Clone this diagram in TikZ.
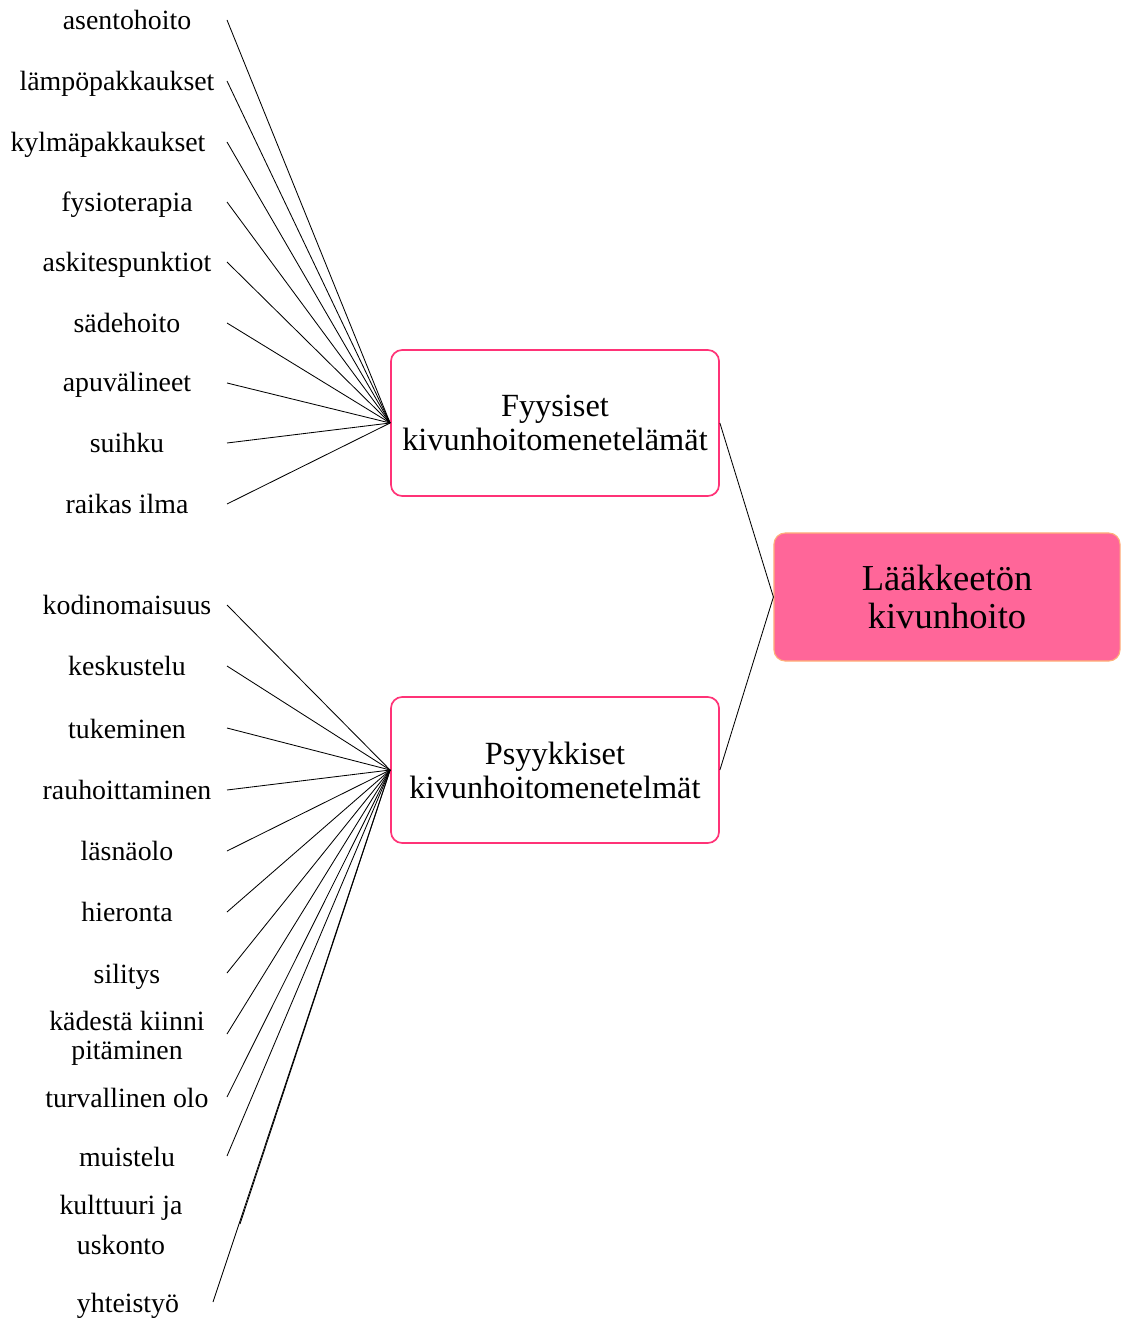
\documentclass[tikz,border=0pt]{standalone}
\usepackage{fontspec}
\setmainfont{Liberation Serif}
\usepackage{tikz}
\usepackage{xcolor}
\definecolor{reuna}{HTML}{FF3377}
\definecolor{paa}{HTML}{FF6699}
\definecolor{paareuna}{HTML}{FFB07A}

\begin{document}
\begin{tikzpicture}[x=0.025cm,y=-0.025cm,
		lbl/.style={inner sep=0pt,align=center,font=\fontsize{19.8}{20.6}\selectfont},
		ryhma/.style={draw=reuna,line width=1.2pt,fill=white,rounded corners=8pt,
			minimum width=8.2cm,minimum height=3.65cm,align=center,
			font=\fontsize{23}{24.1}\selectfont},
		juuri/.style={draw=paareuna,line width=0.8pt,fill=paa,rounded corners=8pt,
			minimum width=8.65cm,minimum height=3.2cm,align=center,
			font=\fontsize{26}{27.6}\selectfont}]
			\useasboundingbox (0,0) rectangle (1122,1319);
			\begin{scope}
				\node[ryhma] (FY) at (555,423) {Fyysiset\\kivunhoitomenetelämät};
				\node[ryhma] (PS) at (555,770) {Psyykkiset\\kivunhoitomenetelmät};
				\node[juuri] (LK) at (947,597) {Lääkkeetön\\kivunhoito};
				\draw[line width=0.6pt] (FY.east) -- (LK.west);
				\draw[line width=0.6pt] (PS.east) -- (LK.west);
			\end{scope}
			\begin{scope}
				% label centre y, line start y
				\foreach \Nombre/\X/\Y/\A/\Texte in {
					1/127/20/20/asentohoito, 2/117/84/81/lämpöpakkaukset,
					3/108/145/142/kylmäpakkaukset, 4/127/205/202/fysioterapia,
					5/127/265/262/askitespunktiot, 6/127/323/323/sädehoito,
					7/127/385/383/apuvälineet, 8/127/443/443/suihku,
					9/127/504/504/raikas ilma%
				} {
					\node[lbl] (F\Nombre) at (\X,\Y) {\Texte};
					\coordinate (FA\Nombre) at (227,\A);
					\draw[line width=0.6pt] (FA\Nombre) -- (FY.west);
				}
			\end{scope}
			\begin{scope}
				\foreach \Nombre/\X/\Y/\A/\Texte in {
					1/127/605/605/kodinomaisuus, 2/127/666/666/keskustelu,
					3/127/729/728/tukeminen, 4/127/790/790/rauhoittaminen,
					5/127/851/851/läsnäolo, 6/127/912/912/hieronta,
					7/127/977/973/silitys, 8/127/1038/1034/{kädestä kiinni\\pitäminen},
					9/127/1098/1097/turvallinen olo, 10/127/1157/1156/muistelu%
				} {
					\node[lbl] (P\Nombre) at (\X,\Y) {\Texte};
					\coordinate (PA\Nombre) at (227,\A);
					\draw[line width=0.6pt] (PA\Nombre) -- (PS.west);
				}
				\node[lbl,font=\fontsize{19.8}{28}\selectfont] (P11) at (121,1225) {kulttuuri ja\\uskonto};
				\node[lbl] (P12) at (128,1306) {yhteistyö};
				\coordinate (PA11) at (240,1224);
				\coordinate (PA12) at (213,1302);
				\foreach \S in {11,12}
					\draw[line width=0.6pt] (PA\S) -- (PS.west);
			\end{scope}
		\end{tikzpicture}
\end{document}
